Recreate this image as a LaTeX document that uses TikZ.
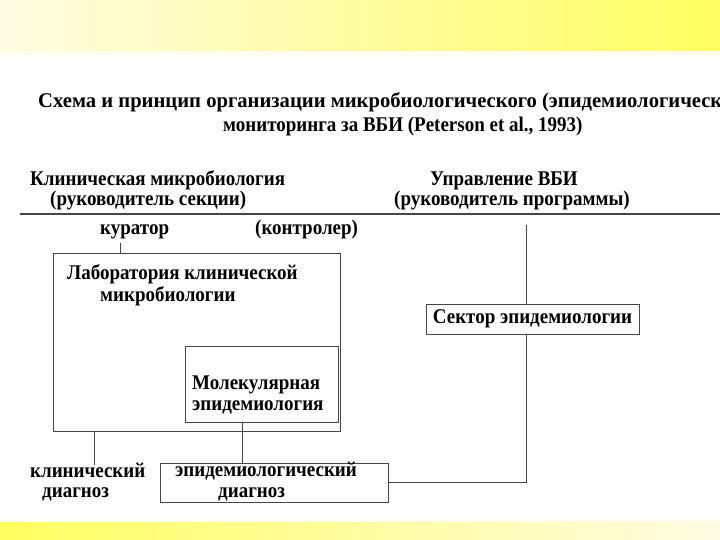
\documentclass[tikz,border=0pt]{standalone}
\usepackage{fontspec}
\setmainfont{Liberation Serif}
\definecolor{bandyellow}{RGB}{255,255,96}
\definecolor{bandpale}{RGB}{255,252,226}
\definecolor{linegray}{RGB}{70,70,70}
\newcommand{\tx}[1]{\scalebox{1}[1.1]{#1}}
\begin{document}
\begin{tikzpicture}[x=1pt, y=-1pt,
    every node/.style={font=\bfseries\fontsize{19}{21}\selectfont, inner sep=0pt},
    txt/.style={anchor=base west},
    box/.style={draw=linegray, line width=0.9pt}]

    \useasboundingbox (0,0) rectangle (720,540);
    \clip (0,0) rectangle (720,540);

    % yellow bands
    \shade[left color=bandpale, right color=bandyellow] (0,0) rectangle (720,52);
    \shade[top color=bandpale!60, bottom color=white] (0,52) rectangle (720,60);
    \shade[left color=bandyellow, right color=bandpale] (0,521) rectangle (720,540);
    \shade[top color=white, bottom color=bandpale!60] (0,514) rectangle (720,521);

    % title
    \node[txt] (title1) at (38,108) {\scalebox{1.085}[1.1]{Схема и принцип организации микробиологического (эпидемиологическ}};
    \node[txt] (title2) at (223,132) {\tx{мониторинга за ВБИ (Peterson et al., 1993)}};

    % heads
    \node[txt] (clinmicro) at (30,186) {\tx{Клиническая микробиология}};
    \node[txt] (sechead) at (50,206) {\tx{(руководитель секции)}};
    \node[txt] (control) at (430,186) {\tx{Управление ВБИ}};
    \node[txt] (proghead) at (394,206) {\tx{(руководитель программы)}};
    \draw[linegray, line width=1.2pt] (20,214) coordinate (rulel) -- (720,214) coordinate (ruler);

    \node[txt] (curator) at (100,234) {\tx{куратор}};
    \node[txt] (controller) at (255,234) {\tx{(контролер)}};

    % laboratory
    \node[box, minimum width=287pt, minimum height=178pt] (lab) at (197,342) {};
    \node[txt] (labtext) at (67,279) {\tx{Лаборатория клинической}};
    \node[txt] (labtext2) at (100,301) {\tx{микробиологии}};

    % molecular epidemiology
    \node[box, minimum width=153pt, minimum height=76pt] (molbox) at (262,384) {};
    \node[txt] (moltext) at (192,389) {\tx{Молекулярная}};
    \node[txt] (moltext2) at (192,410) {\tx{эпидемиология}};

    % sector
    \node[box, minimum width=213pt, minimum height=30pt] (sector) at (532.5,319) {\tx{Сектор эпидемиологии}};

    % diagnoses
    \node[txt] (clindiag) at (30,477) {\tx{клинический}};
    \node[txt] (clindiag2) at (42,497) {\tx{диагноз}};
    \node[box, minimum width=228pt, minimum height=39pt] (epibox) at (274,482.5) {};
    \node[txt] (epitext) at (175,476) {\tx{эпидемиологический}};
    \node[txt] (epitext2) at (218,497) {\tx{диагноз}};

    % connectors
    \coordinate (curline) at (120,243);
    \draw[linegray, line width=0.8pt] (curline) -- (curline |- lab.north);
    \coordinate (clinline) at (94,465);
    \draw[linegray, line width=0.8pt] (clinline |- lab.south) -- (clinline);
    \coordinate (epiline) at (242,0);
    \draw[linegray, line width=0.8pt] (epiline |- molbox.south) -- (epiline |- epibox.north);
    \coordinate (secline) at (526,225);
    \draw[linegray, line width=0.8pt] (secline) -- (secline |- sector.north);
    \draw[linegray, line width=0.8pt] (epibox.east) -| (secline |- sector.south);

\end{tikzpicture}
\end{document}
